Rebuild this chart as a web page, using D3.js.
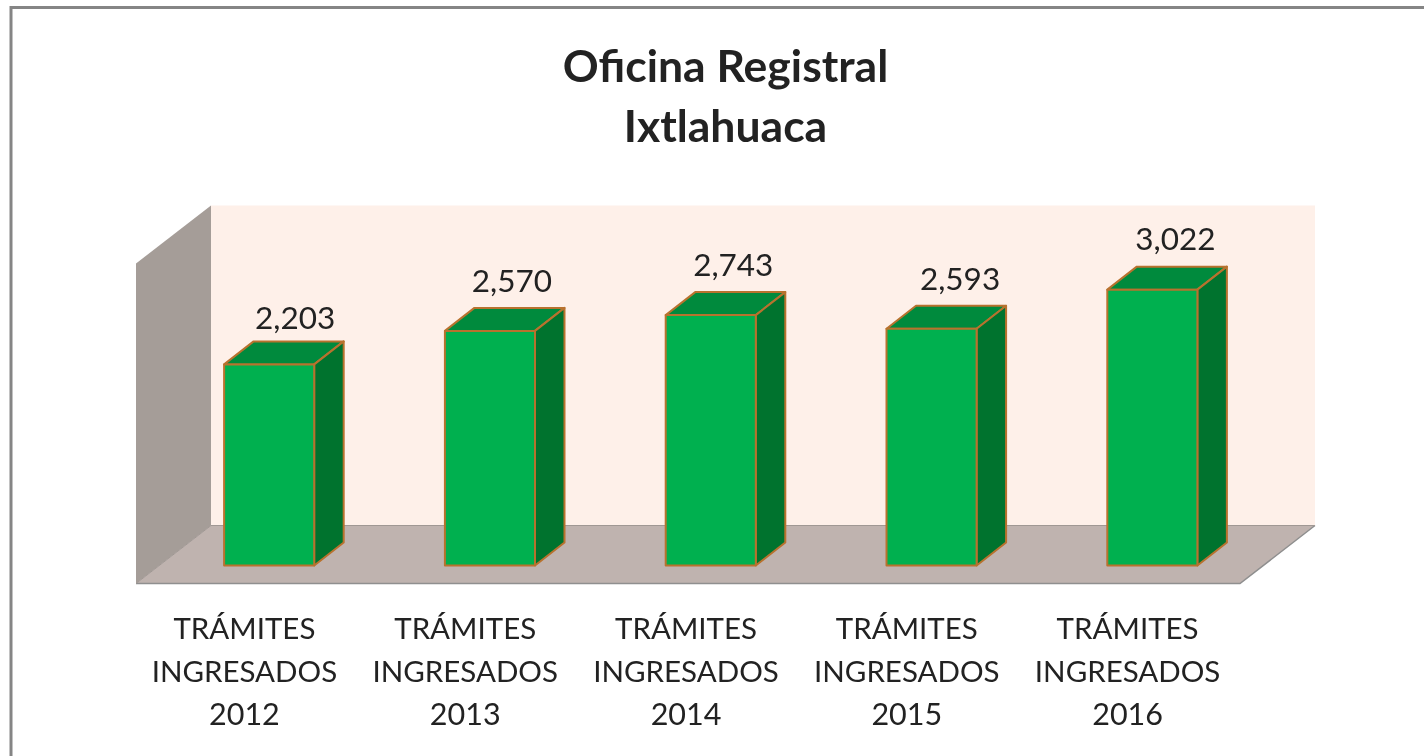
<!DOCTYPE html>
<html>
<head>
<meta charset="utf-8">
<title>Oficina Registral Ixtlahuaca</title>
<script src="https://cdn.jsdelivr.net/npm/d3@7"></script>
<style>
    html, body { margin: 0; padding: 0; background: #fff; overflow: hidden; }
    text { font-family: Lato, "Open Sans", sans-serif; fill: #222; }
</style>
</head>
<body>
<script>
// Chart data
const titleLines = ["Oficina Registral", "Ixtlahuaca"];
const years = ["2012", "2013", "2014", "2015", "2016"];
const labelWords = ["TRÁMITES", "INGRESADOS"];
const values = [2203, 2570, 2743, 2593, 3022];

// hand placed value labels, they do not sit the same on every bar
const labelNudgeX = [-1, -5, -4.5, 1.5, -4];
const labelNudgeY = [0, -4, -4, -4, -5];

const svgWidth = 1424;
const svgHeight = 756;

// floor corners and wall size of the 3d box
const floorLeft = 136;
const floorRight = 1240;
const floorFront = 583.5;
const depthX = 75;
const depthY = 58;
const barBase = 565.5;
const barDepthX = 29.5;
const barDepthY = 23;

let svg = d3
    .select("body")
    .append("svg")
    .attr("width", svgWidth)
    .attr("height", svgHeight)
    .style("display", "block");

// reference is a slightly soft screenshot
let defs = svg.append("defs");
defs.append("filter")
    .attr("id", "soft")
    .append("feGaussianBlur")
    .attr("stdDeviation", 0.5);

let chartGroup = svg.append("g").attr("filter", "url(#soft)");

// outer frame, only top and left are in the picture
chartGroup.append("path")
    .attr("d", `M11,756V7.5H1424`)
    .attr("fill", "none")
    .attr("stroke", "#858585")
    .attr("stroke-width", 3);

// scales
const xScale = d3.scaleBand()
    .domain(years)
    .range([floorLeft, floorRight])
    .paddingInner(0.592)
    .paddingOuter(0.296);

const yScale = d3.scaleLinear()
    .domain([0, 3500])
    .range([barBase, barBase - 319.5]);

const wallHeight = yScale(0) - yScale(3500) + 0.5;

// back wall
chartGroup.append("rect")
    .attr("x", floorLeft + depthX)
    .attr("y", floorFront - depthY - wallHeight)
    .attr("width", floorRight - floorLeft)
    .attr("height", wallHeight)
    .attr("fill", "#fef0e9");

// left wall
chartGroup.append("polygon")
    .attr("points", [
        [floorLeft, floorFront - wallHeight],
        [floorLeft + depthX, floorFront - depthY - wallHeight],
        [floorLeft + depthX, floorFront - depthY],
        [floorLeft, floorFront]
    ].join(" "))
    .attr("fill", "#a59d98");

// floor
chartGroup.append("polygon")
    .attr("points", [
        [floorLeft, floorFront],
        [floorRight, floorFront],
        [floorRight + depthX, floorFront - depthY],
        [floorLeft + depthX, floorFront - depthY]
    ].join(" "))
    .attr("fill", "#bfb3af");

chartGroup.append("path")
    .attr("d", `M${floorLeft},${floorFront}H${floorRight}L${floorRight + depthX},${floorFront - depthY}`)
    .attr("fill", "none")
    .attr("stroke", "#8f8f8f")
    .attr("stroke-width", 1.5);

chartGroup.append("path")
    .attr("d", `M${floorLeft},${floorFront}L${floorLeft + depthX},${floorFront - depthY}H${floorRight + depthX}`)
    .attr("fill", "none")
    .attr("stroke", "#a09894")
    .attr("stroke-width", 1);

// category axis, labels go on three lines
const bottomAxis = d3.axisBottom(xScale).tickSize(0).tickPadding(0);

let xAxis = chartGroup.append("g")
    .attr("transform", `translate(-2, ${floorFront})`)
    .call(bottomAxis);

xAxis.select(".domain").remove();

xAxis.selectAll(".tick text")
    .attr("y", 0)
    .attr("dy", 0)
    .attr("font-size", 29.5)
    .attr("font-family", "Lato")
    .attr("fill", "#222")
    .each(function(d) {
        let label = d3.select(this).text("");
        [...labelWords, d].forEach((line, i) => {
            label.append("tspan")
                .attr("x", 0)
                .attr("y", 55.5 + i * 43)
                .attr("font-size", i === 2 ? 30.5 : 29.5)
                .text(line);
        });
    });

// bars
let barGroups = chartGroup.selectAll(".bar")
    .data(values)
    .enter()
    .append("g")
    .attr("class", "bar")
    .attr("stroke", "#b8722e")
    .attr("stroke-width", 2)
    .attr("stroke-linejoin", "round");

const barX = (d, i) => xScale(years[i]) + (depthX - barDepthX) / 2;
const barW = xScale.bandwidth();

// top face
barGroups.append("polygon")
    .attr("fill", "#008a3e")
    .attr("points", (d, i) => {
        const x = barX(d, i), y = yScale(d);
        return [[x, y], [x + barDepthX, y - barDepthY], [x + barW + barDepthX, y - barDepthY], [x + barW, y]].join(" ");
    });

// side face
barGroups.append("polygon")
    .attr("fill", "#00732f")
    .attr("points", (d, i) => {
        const x = barX(d, i) + barW, y = yScale(d);
        return [[x, y], [x + barDepthX, y - barDepthY], [x + barDepthX, barBase - barDepthY], [x, barBase]].join(" ");
    });

// front face
barGroups.append("rect")
    .attr("fill", "#00b04f")
    .attr("x", barX)
    .attr("y", d => yScale(d))
    .attr("width", barW)
    .attr("height", d => yScale(0) - yScale(d));

// value labels
chartGroup.selectAll(".value")
    .data(values)
    .enter()
    .append("text")
    .attr("class", "value")
    .attr("x", (d, i) => barX(d, i) + barW / 2 + 27 + labelNudgeX[i])
    .attr("y", (d, i) => yScale(d) - 35 + labelNudgeY[i])
    .attr("text-anchor", "middle")
    .attr("font-size", 31.5)
    .text(d3.format(","));

// title
chartGroup.selectAll(".title")
    .data(titleLines)
    .enter()
    .append("text")
    .attr("class", "title")
    .attr("x", 725.5)
    .attr("y", (d, i) => 82 + i * 60)
    .attr("text-anchor", "middle")
    .attr("font-size", 44.5)
    .attr("font-weight", "bold")
    .attr("fill", "#111")
    .text(d => d);
</script>
</body>
</html>
